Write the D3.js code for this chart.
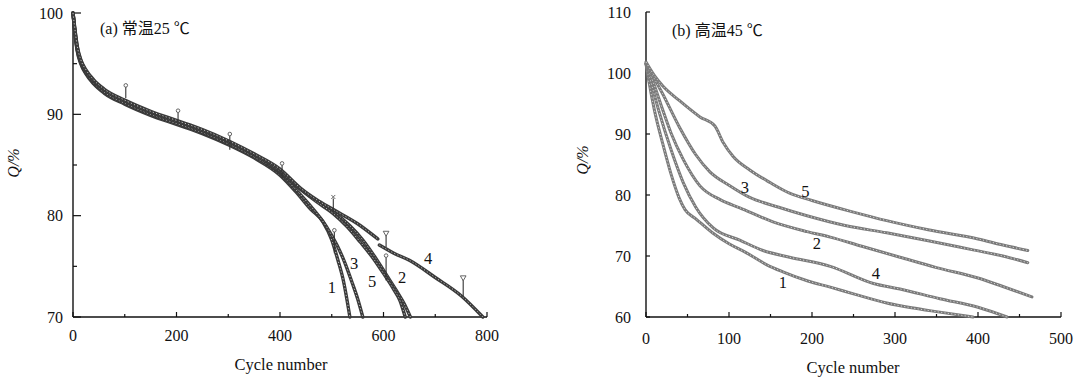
<!DOCTYPE html>
<html>
<head>
<meta charset="utf-8">
<script src="https://cdn.jsdelivr.net/npm/d3@7"></script>
<style>
  html, body { margin: 0; padding: 0; background: #fff; }
</style>
</head>
<body>
<div id="chart"></div>
<script>
// ---- Panel (a): 25 °C, capacity retention vs cycle number
const leftSeries1 = [[0,100],[3,98.3],[8,96.3],[15,95],[25,94],[40,93],[60,92.1],[100,91],[150,89.9],[200,89],[250,88.1],[300,87],[350,85.7],[400,84],[430,82.4],[460,80.6],[483,79.4],[500,77.6],[512,75.6],[522,73.7],[535,70]];
const leftSeries2 = [[0,100],[3,98.4],[8,96.4],[15,95.1],[25,94.1],[40,93.1],[60,92.2],[100,91.1],[150,90],[200,89.1],[250,88.2],[300,87.1],[350,85.8],[400,84.3],[430,83],[470,81.5],[503,80.4],[535,79],[560,77.6],[585,75.8],[605,74.2],[625,72.6],[640,71.3],[652,70]];
const leftSeries3 = [[0,100],[3,98.5],[8,96.5],[15,95.2],[25,94.2],[40,93.2],[60,92.3],[100,91.2],[150,90.1],[200,89.2],[250,88.3],[300,87.2],[350,85.9],[400,84.2],[430,82.6],[460,80.9],[490,78.9],[510,77.1],[525,75.4],[540,73.3],[550,71.8],[560,70]];
const leftSeries4a = [[0,100],[3,98.7],[8,96.8],[15,95.4],[25,94.4],[40,93.4],[60,92.5],[100,91.4],[150,90.3],[200,89.4],[250,88.5],[300,87.4],[350,86.1],[400,84.6],[440,82.7],[470,81.6],[503,80.6],[550,79.2],[589,77.7]];
const leftSeries4b = [[592,77.1],[620,76.3],[650,75.6],[700,73.9],[750,72.1],[792,70]];
const leftSeries5 = [[0,100],[3,98.6],[8,96.7],[15,95.3],[25,94.3],[40,93.3],[60,92.4],[100,91.3],[150,90.2],[200,89.3],[250,88.4],[300,87.3],[350,86],[400,84.4],[430,83],[470,81.4],[503,80.2],[530,78.9],[555,77.4],[580,75.8],[600,74.3],[620,72.7],[632,71.6],[642,70]];

// error bars: cycle, upper, lower, cap kind
const leftErrCycle = [102, 203, 303, 404, 503, 505, 605, 605, 754];
const leftErrHigh  = [92.7, 90.2, 87.9, 85.0, 81.7, 78.4, 78.2, 75.9, 73.8];
const leftErrLow   = [91.6, 89.2, 86.5, 83.8, 80.4, 76.3, 76.9, 73.6, 72.0];
const leftErrCap   = ['o', 'o', 'o', 'o', 'x', 'o', 't', 'o', 't'];

// curve labels: text, cycle, value
const leftLabelText  = ['1', '3', '5', '2', '4'];
const leftLabelCycle = [500, 543, 578, 636, 686];
const leftLabelValue = [72.9, 75.3, 73.5, 73.9, 75.8];

// ---- Panel (b): 45 °C
const rightSeries1 = [[0,101.5],[3,99],[10,94],[20,88.5],[30,83.5],[40,79.5],[47,77.6],[60,76.1],[80,73.8],[100,72],[120,70.6],[145,68.6],[165,67.4],[195,65.9],[222,64.9],[250,63.8],[290,62.3],[320,61.5],[354,60.8],[394,60]];
const rightSeries2 = [[0,101.5],[10,98],[20,94],[30,90.2],[45,85.8],[65,81.5],[90,79.2],[113,77.9],[153,75.6],[194,74],[222,73.1],[260,71.6],[306,69.8],[350,68.1],[400,66.4],[430,65],[465,63.3]];
const rightSeries3 = [[0,101.6],[10,99.1],[20,96.6],[40,91.2],[60,86.6],[77,83.8],[100,81.6],[125,79.6],[160,78],[194,76.6],[240,75],[290,73.8],[340,72.5],[394,71],[430,70],[460,68.9]];
const rightSeries4 = [[0,101.5],[5,99],[15,94],[30,87.5],[45,82],[60,78],[81,74.6],[113,72.6],[141,70.9],[173,69.8],[222,68.3],[274,65.5],[306,64.6],[354,63],[400,61.6],[435,60]];
const rightSeries5 = [[0,101.8],[10,99.6],[20,97.9],[40,95.5],[65,92.8],[83,91.3],[93,88.6],[105,86.3],[125,84.1],[150,82],[173,80.3],[200,79.1],[250,77.2],[290,75.8],[340,74.3],[400,72.8],[430,71.8],[460,70.9]];

const rightLabelText  = ['3', '5', '2', '4', '1'];
const rightLabelCycle = [119, 192, 206, 277, 165];
const rightLabelValue = [81.3, 80.5, 72.1, 67.2, 65.6];

const width = 1080, height = 379;
const serif = '"Liberation Serif", "Times New Roman", Times, "DejaVu Serif", serif';
const cjk = '"Noto Sans CJK SC", "Noto Sans CJK JP", sans-serif';

const svg = d3.select('#chart')
    .append('svg')
    .attr('width', width)
    .attr('height', height)
    .attr('font-family', serif)
    .style('display', 'block');

svg.append('rect').attr('width', width).attr('height', height).attr('fill', '#fff');

// ---- Scales
const xLeft = d3.scaleLinear().domain([0, 800]).range([73, 487]);
const yLeft = d3.scaleLinear().domain([70, 100]).range([317, 13]);
const xRight = d3.scaleLinear().domain([0, 500]).range([646, 1061]);
const yRight = d3.scaleLinear().domain([60, 110]).range([317, 12]);

function addText(g, x, y, txt, size) {
    return g.append('text').attr('x', x).attr('y', y)
        .style('font-family', serif).style('font-size', size + 'px')
        .attr('fill', '#111').text(txt);
}

// draws one textured band-like curve (the original plots dense open markers)
function drawCurve(g, data, x, y, base, widthPx) {
    const line = d3.line()
        .x(d => x(d[0]))
        .y(d => y(d[1]))
        .curve(d3.curveMonotoneX);
    g.append('path')
        .attr('d', line(data))
        .attr('fill', 'none')
        .attr('stroke', base)
        .attr('stroke-width', widthPx)
        .attr('stroke-linecap', 'round');
    g.append('path')
        .attr('d', line(data))
        .attr('fill', 'none')
        .attr('stroke', '#fff')
        .attr('stroke-width', 0.9)
        .attr('stroke-dasharray', '1.2 2.2')
        .attr('opacity', 0.75);
}

function drawAxes(x, y, opts) {
    const g = svg.append('g');
    const [x0, x1] = x.range();
    const [y0, y1] = y.range();

    // x axis line + ticks (pointing up)
    g.append('line').attr('x1', x0).attr('x2', x1).attr('y1', y0).attr('y2', y0)
        .attr('stroke', '#111').attr('stroke-width', 1.4);
    opts.xMinor.forEach(v => {
        g.append('line').attr('x1', x(v)).attr('x2', x(v)).attr('y1', y0).attr('y2', y0 - 3)
            .attr('stroke', '#111').attr('stroke-width', 1.2);
    });
    opts.xMajor.forEach(v => {
        g.append('line').attr('x1', x(v)).attr('x2', x(v)).attr('y1', y0).attr('y2', y0 - 5)
            .attr('stroke', '#111').attr('stroke-width', 1.2);
        addText(g, x(v), opts.xLabelY, v, 16).attr('text-anchor', 'middle');
    });

    // y axis line + ticks (pointing right)
    g.append('line').attr('x1', x0).attr('x2', x0).attr('y1', y0).attr('y2', y1)
        .attr('stroke', '#111').attr('stroke-width', 1.4);
    opts.yMinor.forEach(v => {
        g.append('line').attr('x1', x0).attr('x2', x0 + 4).attr('y1', y(v)).attr('y2', y(v))
            .attr('stroke', '#111').attr('stroke-width', 1.2);
    });
    opts.yMajor.forEach(v => {
        g.append('line').attr('x1', x0).attr('x2', x0 + opts.yTick).attr('y1', y(v)).attr('y2', y(v))
            .attr('stroke', '#111').attr('stroke-width', 1.2);
        addText(g, opts.yLabelX, y(v) + 5.5, v, 16).attr('text-anchor', 'end');
    });

    // axis titles
    addText(g, opts.xTitle[0], opts.xTitle[1], 'Cycle number', 16.5).attr('text-anchor', 'middle');
    addText(g, 0, 5, 'Q/%', 16)
        .attr('transform', `translate(${opts.yTitle[0]},${opts.yTitle[1]}) rotate(-90)`)
        .attr('text-anchor', 'middle')
        .style('font-style', 'italic');

    // panel title: latin parts in serif, Chinese in CJK font
    const t = addText(g, opts.title[0], opts.title[1], null, 16);
    opts.titleParts.forEach(([txt, isCjk]) => {
        t.append('tspan').style('font-family', isCjk ? cjk : serif).text(txt);
    });
    return g;
}

// ---- Panel (a)
drawAxes(xLeft, yLeft, {
    xMajor: [0, 200, 400, 600, 800],
    xMinor: [100, 300, 500, 700],
    yMajor: [100, 90, 80, 70],
    yMinor: [95, 85, 75],
    yTick: 8,
    xLabelY: 341,
    yLabelX: 63,
    xTitle: [281, 370],
    yTitle: [14, 163],
    title: [100, 34],
    titleParts: [['(a) ', false], ['常温', true], ['25 ', false], ['℃', true]]
});

const gLeft = svg.append('g');
[leftSeries1, leftSeries3, leftSeries2, leftSeries5, leftSeries4a, leftSeries4b].forEach(s => {
    drawCurve(gLeft, s, xLeft, yLeft, '#3a3a3a', 3.4);
});

// error bars
const errG = svg.append('g');
leftErrCycle.forEach((c, i) => {
    const cx = xLeft(c), top = yLeft(leftErrHigh[i]), bot = yLeft(leftErrLow[i]);
    errG.append('line').attr('x1', cx).attr('x2', cx).attr('y1', top).attr('y2', bot)
        .attr('stroke', '#333').attr('stroke-width', 1.1);
    if (leftErrCap[i] === 'o') {
        errG.append('circle').attr('cx', cx).attr('cy', top - 1.6).attr('r', 1.8)
            .attr('fill', '#fff').attr('stroke', '#555').attr('stroke-width', 0.9);
    } else if (leftErrCap[i] === 't') {
        errG.append('path')
            .attr('d', d3.symbol(d3.symbolTriangle, 14)())
            .attr('transform', `translate(${cx},${top - 1}) rotate(180)`)
            .attr('fill', '#fff').attr('stroke', '#555').attr('stroke-width', 0.9);
    } else {
        errG.append('path')
            .attr('d', d3.symbol(d3.symbolTimes, 12)())
            .attr('transform', `translate(${cx},${top - 1.5})`)
            .attr('fill', 'none').attr('stroke', '#555').attr('stroke-width', 0.9);
    }
});

leftLabelText.forEach((t, i) => {
    addText(svg, xLeft(leftLabelCycle[i]), yLeft(leftLabelValue[i]) + 5.5, t, 16.5)
        .attr('text-anchor', 'middle');
});

// ---- Panel (b)
drawAxes(xRight, yRight, {
    xMajor: [0, 100, 200, 300, 400, 500],
    xMinor: [50, 150, 250, 350, 450],
    yMajor: [110, 100, 90, 80, 70, 60],
    yMinor: [],
    yTick: 4,
    xLabelY: 344,
    yLabelX: 631,
    xTitle: [853, 373],
    yTitle: [583, 160],
    title: [672, 36],
    titleParts: [['(b) ', false], ['高温', true], ['45 ', false], ['℃', true]]
});

const gRight = svg.append('g');
[rightSeries1, rightSeries4, rightSeries2, rightSeries3, rightSeries5].forEach(s => {
    drawCurve(gRight, s, xRight, yRight, '#7a7a7a', 3);
});

rightLabelText.forEach((t, i) => {
    addText(svg, xRight(rightLabelCycle[i]), yRight(rightLabelValue[i]) + 5.5, t, 16.5)
        .attr('text-anchor', 'middle');
});
</script>
</body>
</html>
